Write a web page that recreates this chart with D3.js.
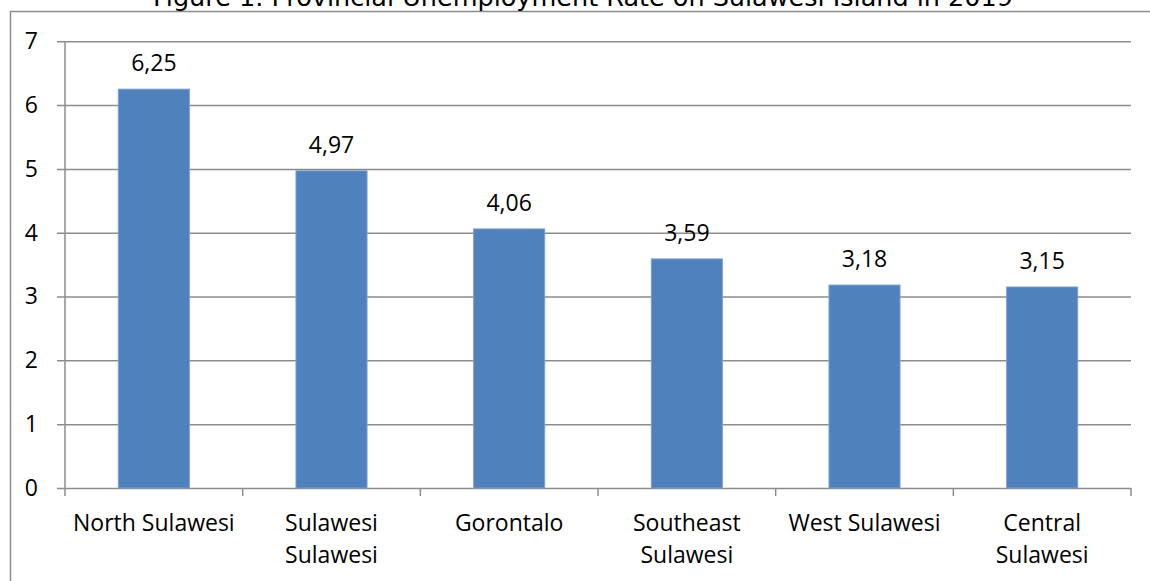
<!DOCTYPE html>
<html>
<head>
<meta charset="utf-8">
<script src="https://cdn.jsdelivr.net/npm/d3@7"></script>
<style>
  body { margin: 0; background: #fff; }
  svg text { font-family: "Open Sans", sans-serif; fill: #000; }
</style>
</head>
<body>
<script>
var provinces = ['North Sulawesi', 'Sulawesi Sulawesi', 'Gorontalo', 'Southeast Sulawesi', 'West Sulawesi', 'Central Sulawesi'];
var labelLines = [['North Sulawesi'], ['Sulawesi', 'Sulawesi'], ['Gorontalo'], ['Southeast', 'Sulawesi'], ['West Sulawesi'], ['Central', 'Sulawesi']];
var rates = [6.25, 4.97, 4.06, 3.59, 3.18, 3.15];
var yTicks = [0, 1, 2, 3, 4, 5, 6, 7];
var title = 'Figure 1. Provincial Unemployment Rate on Sulawesi Island in 2019';

var W = 1150, H = 581;
var margin = {top: 41.3, right: 19, bottom: 93, left: 65};
var width = W - margin.left - margin.right,
    height = H - margin.top - margin.bottom;

var svg = d3.select("body")
  .append("svg")
    .attr("width", W)
    .attr("height", H);

// chart frame
svg.append("rect")
  .attr("x", 10.5).attr("y", 11.5)
  .attr("width", W).attr("height", H)
  .attr("fill", "none")
  .attr("stroke", "#8c8c8c")
  .attr("stroke-width", 1.5);

svg.append("text")
  .attr("x", 583).attr("y", 6)
  .attr("text-anchor", "middle")
  .style("font-family", "'DejaVu Sans', sans-serif")
  .style("font-size", "25.5px")
  .text(title);

var g = svg.append("g")
  .attr("transform", "translate(" + margin.left + "," + margin.top + ")");

var x = d3.scaleBand()
  .domain(provinces)
  .range([0, width])
  .paddingInner(0.6)
  .paddingOuter(0.3);

var y = d3.scaleLinear()
  .domain([0, 7])
  .range([height, 0]);

// gridlines + y axis
var yAxis = g.append("g")
  .call(d3.axisLeft(y).tickValues(yTicks).tickSize(-width).tickFormat(d3.format("d")).tickPadding(27));
yAxis.select(".domain").remove();
yAxis.selectAll(".tick line")
  .attr("x1", -8)
  .attr("stroke", "#8c8c8c")
  .attr("stroke-width", 1.5);
yAxis.selectAll(".tick text")
  .style("font-size", "23px");

// left axis line
g.append("line")
  .attr("x1", 0).attr("x2", 0)
  .attr("y1", 0).attr("y2", height)
  .attr("stroke", "#8c8c8c").attr("stroke-width", 1.5);

// category ticks on the bottom
var step = x.step();
var bounds = d3.range(provinces.length + 1).map(function(i) { return x(provinces[0]) - x.paddingOuter() * step + i * step; });
g.selectAll(".ctick")
  .data(bounds)
  .enter().append("line")
  .attr("x1", function(d) { return d; })
  .attr("x2", function(d) { return d; })
  .attr("y1", height).attr("y2", height + 8)
  .attr("stroke", "#8c8c8c").attr("stroke-width", 1.5);

g.selectAll(".bar")
  .data(rates)
  .enter().append("rect")
  .attr("x", function(d, i) { return x(provinces[i]); })
  .attr("y", function(d) { return y(d); })
  .attr("width", x.bandwidth())
  .attr("height", function(d) { return height - y(d); })
  .attr("fill", "#4f81bd")
  .attr("stroke", "#7ba0cd")
  .attr("stroke-width", 1);

g.selectAll(".val")
  .data(rates)
  .enter().append("text")
  .attr("x", function(d, i) { return x(provinces[i]) + x.bandwidth() / 2; })
  .attr("y", function(d) { return y(d) - 18; })
  .attr("text-anchor", "middle")
  .style("font-size", "23px")
  .text(function(d) { return d.toFixed(2).replace('.', ','); });

var cat = g.selectAll(".cat")
  .data(labelLines)
  .enter().append("text")
  .attr("text-anchor", "middle")
  .style("font-size", "23px")
  .attr("transform", function(d, i) { return "translate(" + (x(provinces[i]) + x.bandwidth() / 2) + "," + (height + 43.3) + ")"; });
cat.selectAll("tspan")
  .data(function(d) { return d; })
  .enter().append("tspan")
  .attr("x", 0)
  .attr("y", function(d, j) { return j * 31.7; })
  .text(function(d) { return d; });
</script>
</body>
</html>
